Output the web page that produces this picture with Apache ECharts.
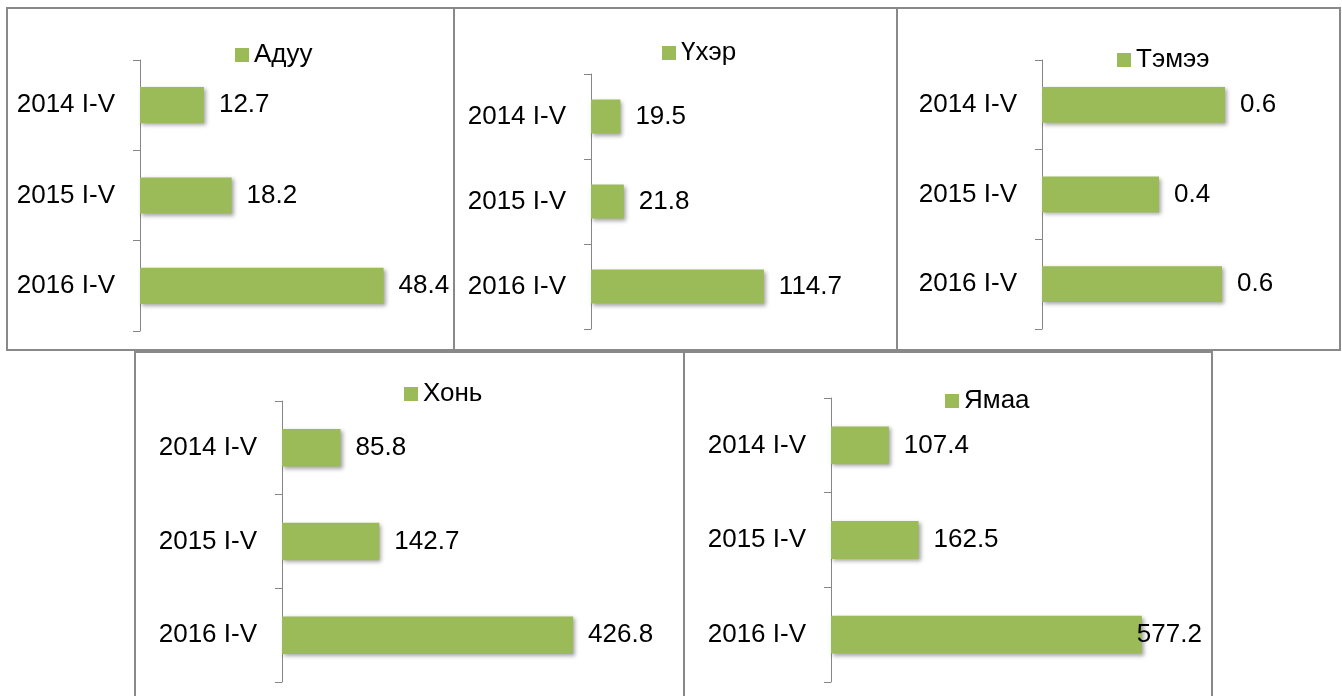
<!DOCTYPE html>
<html>
<head>
<meta charset="utf-8">
<script src="https://cdn.jsdelivr.net/npm/echarts@6/dist/echarts.min.js"></script>
<style>
html,body{margin:0;padding:0;background:#fff;}
#c{width:1342px;height:696px;}
</style>
</head>
<body>
<div id="c"></div>
<script>
const categories = ['2014 I-V', '2015 I-V', '2016 I-V'];
const seriesNames = ['Адуу', 'Үхэр', 'Тэмээ', 'Хонь', 'Ямаа'];
const aduu = [12.7, 18.2, 48.4];
const ukher = [19.5, 21.8, 114.7];
const temee = [0.61, 0.39, 0.60];
const khon = [85.8, 142.7, 426.8];
const yamaa = [107.4, 162.5, 577.2];
const axisMax = [60, 140, 0.7, 500, 700];

const values = [aduu, ukher, temee, khon, yamaa];
const FONT = '"Liberation Sans", Arial, sans-serif';
const FS = 26;
const GREEN = '#9BBB59';

// layout of each panel
const grids = [
  {left: 140, top: 60, width: 302, height: 271},
  {left: 591, top: 74, width: 211, height: 255},
  {left: 1042, top: 60, width: 210, height: 269},
  {left: 282, top: 401, width: 341, height: 281},
  {left: 831, top: 398, width: 377, height: 284}
];
const legendPos = [
  {left: 230, top: 37},
  {left: 657, top: 35},
  {left: 1112, top: 42},
  {left: 399, top: 376},
  {left: 940, top: 383}
];
const borders = [
  {x: 7, y: 8, width: 447, height: 342},
  {x: 454, y: 8, width: 443, height: 342},
  {x: 897, y: 8, width: 443, height: 342},
  {x: 135, y: 352, width: 549, height: 370},
  {x: 684, y: 352, width: 528, height: 370}
];

const option = {
  animation: false,
  backgroundColor: '#fff',
  textStyle: {fontFamily: FONT},
  grid: grids.map(g => Object.assign({containLabel: false}, g)),
  xAxis: grids.map((g, i) => ({
    type: 'value', gridIndex: i, min: 0, max: axisMax[i], show: false,
    splitLine: {show: false}
  })),
  yAxis: grids.map((g, i) => ({
    type: 'category', gridIndex: i, data: categories, inverse: true,
    axisLine: {show: true, lineStyle: {color: '#868686', width: 1}},
    axisTick: {show: true, length: 7, lineStyle: {color: '#868686', width: 1}},
    axisLabel: {color: '#000', fontSize: FS, fontFamily: FONT, margin: 25}
  })),
  legend: seriesNames.map((n, i) => ({
    data: [n], left: legendPos[i].left, top: legendPos[i].top,
    icon: 'rect', itemWidth: 14, itemHeight: 14, itemGap: 5,
    textStyle: {color: '#000', fontSize: FS, fontFamily: FONT, padding: [0, 0, 0, 0]},
    selectedMode: false
  })),
  graphic: borders.map(b => ({
    type: 'rect', shape: b, silent: true, z: 100,
    style: {fill: 'none', stroke: '#898989', lineWidth: 2}
  })),
  series: seriesNames.map((n, i) => ({
    type: 'bar', name: n, xAxisIndex: i, yAxisIndex: i,
    barWidth: '40%',
    itemStyle: {color: GREEN, shadowColor: 'rgba(0,0,0,0.35)', shadowBlur: 4, shadowOffsetX: 2, shadowOffsetY: 2},
    label: {
      show: true, position: 'right', distance: 15, color: '#000', fontSize: FS, fontFamily: FONT,
      formatter: p => p.value.toFixed(1)
    },
    data: values[i].map((v, j) => {
      if (i === 4 && j === 2) {
        return {value: v, label: {distance: -5}};
      }
      return v;
    })
  }))
};

const chart = echarts.init(document.getElementById('c'), null, {renderer: 'canvas'});
chart.setOption(option);
</script>
</body>
</html>
